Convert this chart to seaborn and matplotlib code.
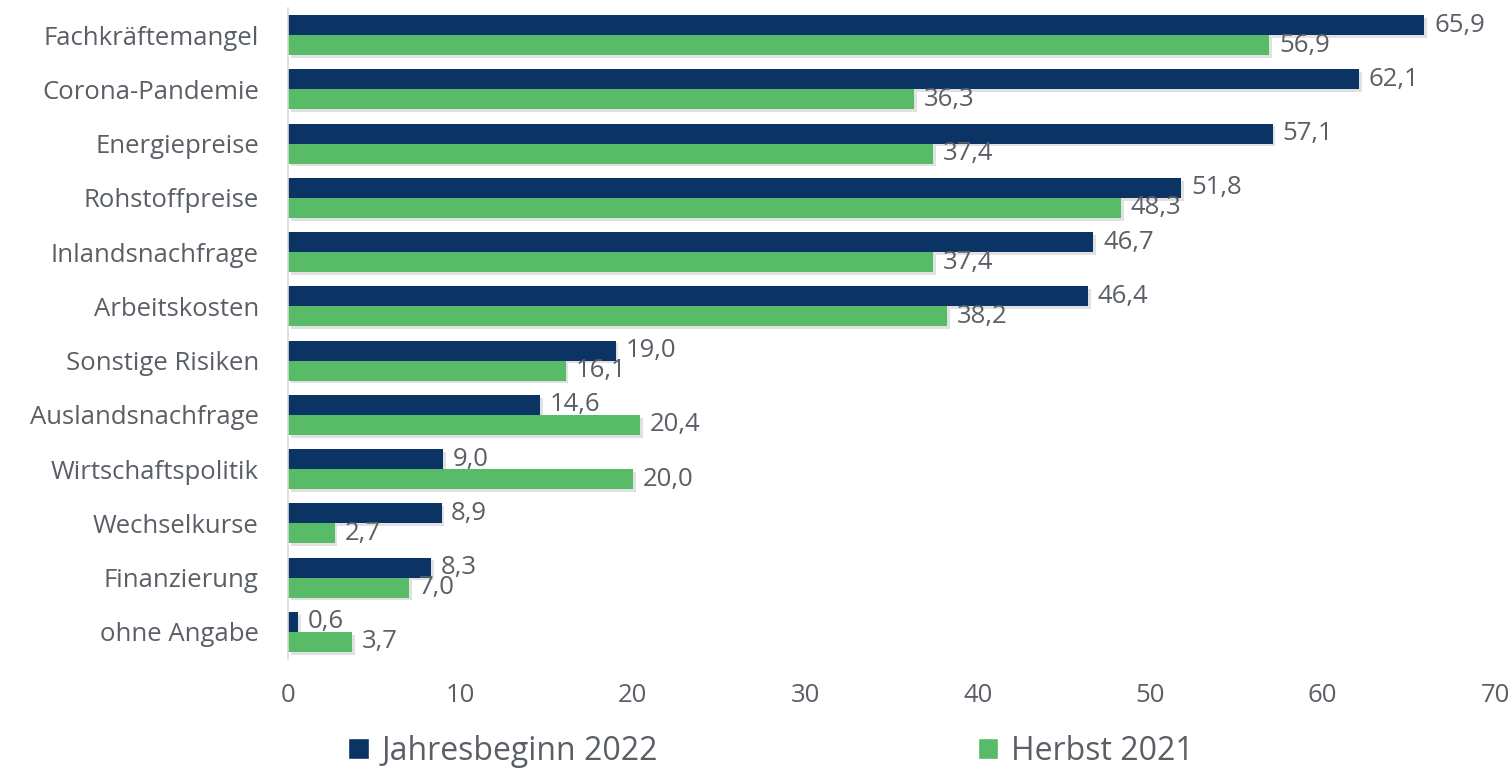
import pandas as pd
import seaborn as sns
import matplotlib.pyplot as plt
import matplotlib.patheffects as pe
from matplotlib.patches import Patch

# data
categories = ['Fachkräftemangel', 'Corona-Pandemie', 'Energiepreise', 'Rohstoffpreise',
              'Inlandsnachfrage', 'Arbeitskosten', 'Sonstige Risiken', 'Auslandsnachfrage',
              'Wirtschaftspolitik', 'Wechselkurse', 'Finanzierung', 'ohne Angabe']
jahresbeginn_2022 = [65.9, 62.1, 57.1, 51.8, 46.7, 46.4, 19.0, 14.6, 9.0, 8.9, 8.3, 0.6]
herbst_2021 = [56.9, 36.3, 37.4, 48.3, 37.4, 38.2, 16.1, 20.4, 20.0, 2.7, 7.0, 3.7]
series = ['Jahresbeginn 2022', 'Herbst 2021']
x_ticks = [0, 10, 20, 30, 40, 50, 60, 70]

NAVY = '#0b3363'
GREEN = '#58bb68'
GREY = '#5a5f66'

df = pd.DataFrame({
    'Kategorie': categories * 2,
    'Wert': jahresbeginn_2022 + herbst_2021,
    'Serie': [series[0]] * len(categories) + [series[1]] * len(categories),
})

sns.set_style('white')
plt.rcParams['font.family'] = ['Open Sans', 'DejaVu Sans']

fig = plt.figure(figsize=(15.12, 7.68), dpi=100)
ax = fig.add_axes([0.1905, 0.142, 0.7983, 0.8476])

sns.barplot(data=df, x='Wert', y='Kategorie', hue='Serie', orient='h',
            palette=[NAVY, GREEN], width=0.74, gap=0, saturation=1,
            linewidth=0, legend=False, ax=ax)

# soft shadow on the bars
for bar in ax.patches:
    bar.set_path_effects([pe.SimplePatchShadow(offset=(2, -2), alpha=0.25, shadow_rgbFace='#888888'),
                          pe.Normal()])

for cont in ax.containers:
    labels = [f'{v:.1f}'.replace('.', ',') for v in cont.datavalues]
    ax.bar_label(cont, labels=labels, padding=7, fontsize=18.5, color=GREY)

ax.set_xlim(0, 70)
ax.set_ylim(len(categories) - 0.5, -0.5)
ax.set_xticks(x_ticks)
ax.set_xticklabels([str(t) for t in x_ticks])
ax.set_xlabel('')
ax.set_ylabel('')
ax.tick_params(axis='x', length=0, pad=17, labelsize=18.5, labelcolor=GREY)
ax.tick_params(axis='y', length=0, pad=21, labelsize=18.5, labelcolor=GREY)
ax.grid(False)

for s in ['top', 'right', 'bottom']:
    ax.spines[s].set_visible(False)
ax.spines['left'].set_color('#d9d9d9')
ax.spines['left'].set_linewidth(1.2)

handles = [Patch(facecolor=NAVY, label=series[0]), Patch(facecolor=GREEN, label=series[1])]
fig.legend(handles=handles, loc='center', bbox_to_anchor=(0.51, 0.022), ncol=2,
           frameon=False, fontsize=23, handlelength=0.65, handleheight=0.65,
           handletextpad=0.4, columnspacing=10, labelcolor=GREY)

fig.savefig('out.png', dpi=100)
